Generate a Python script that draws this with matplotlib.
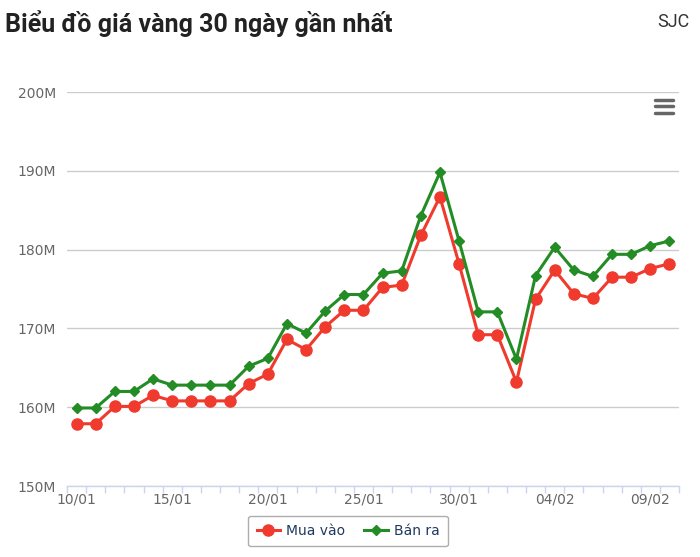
import matplotlib
matplotlib.use("Agg")
import matplotlib.pyplot as plt
from matplotlib.lines import Line2D

# Dates (category axis), one per day
dates = ['10/01', '11/01', '12/01', '13/01', '14/01', '15/01', '16/01', '17/01',
         '18/01', '19/01', '20/01', '21/01', '22/01', '23/01', '24/01', '25/01',
         '26/01', '27/01', '28/01', '29/01', '30/01', '31/01', '01/02', '02/02',
         '03/02', '04/02', '05/02', '06/02', '07/02', '08/02', '09/02', '10/02']

# Prices in millions
mua_vao = [157.9, 157.9, 160.1, 160.1, 161.5, 160.8, 160.8, 160.8, 160.8, 163.0,
           164.2, 168.6, 167.3, 170.2, 172.3, 172.3, 175.2, 175.5, 181.8, 186.7,
           178.2, 169.2, 169.2, 163.2, 173.7, 177.4, 174.4, 173.8, 176.5, 176.5,
           177.6, 178.2]
ban_ra = [159.9, 159.9, 162.0, 162.0, 163.6, 162.8, 162.8, 162.8, 162.8, 165.2,
          166.2, 170.6, 169.4, 172.2, 174.3, 174.3, 177.0, 177.3, 184.3, 189.8,
          181.1, 172.1, 172.1, 166.1, 176.7, 180.3, 177.4, 176.6, 179.4, 179.4,
          180.5, 181.1]

y_ticks = [150, 160, 170, 180, 190, 200]

RED = '#f03a2e'
GREEN = '#248c24'
AXIS_C = '#ccd6eb'
TXT = '#666666'

fig = plt.figure(figsize=(7, 5.57), dpi=100)
ax = fig.add_axes([67 / 700, 1 - 486 / 557, 612 / 700, 394 / 557])

x = list(range(len(dates)))
ax.plot(x, mua_vao, color=RED, lw=2.2, marker='o', ms=8, mec=RED, mfc=RED,
        label='Mua vào', zorder=3)
ax.plot(x, ban_ra, color=GREEN, lw=2.2, marker='D', ms=5.5, mec=GREEN, mfc=GREEN,
        label='Bán ra', zorder=4)

ax.set_xlim(-0.5, len(dates) - 0.5)
ax.set_ylim(150, 200)

ax.set_yticks(y_ticks)
ax.set_yticklabels([f'{v}M' for v in y_ticks])
ax.tick_params(axis='y', length=0, pad=8, labelsize=10, labelcolor=TXT)

ax.set_xticks(x[::5])
ax.set_xticklabels(dates[::5])
ax.set_xticks([i - 0.5 for i in range(len(dates) + 1)], minor=True)
ax.tick_params(axis='x', which='major', length=0, pad=5, labelsize=10, labelcolor=TXT)
ax.tick_params(axis='x', which='minor', length=5, width=1, color=AXIS_C)

ax.grid(axis='y', color='#cccccc', lw=1)
ax.set_axisbelow(True)
for s in ['top', 'right', 'left']:
    ax.spines[s].set_visible(False)
ax.spines['bottom'].set_color(AXIS_C)
ax.spines['bottom'].set_linewidth(1)
ax.spines['bottom'].set_zorder(5)

# Title and source
fig.text(5 / 700, 1 - 24 / 557, 'Biểu đồ giá vàng 30 ngày gần nhất',
         fontfamily='Roboto', fontweight='bold', fontsize=18, color='#222222',
         va='center', ha='left')
fig.text(690 / 700, 1 - 22 / 557, 'SJC', fontfamily='Roboto', fontsize=13,
         color='#333333', va='center', ha='right')

# Hamburger menu icon
for yy in [99.5, 106, 112.5]:
    fig.add_artist(Line2D([655 / 700, 673 / 700], [1 - yy / 557, 1 - yy / 557],
                          color='#666666', lw=2.5, solid_capstyle='round'))

leg = fig.legend(loc='center', bbox_to_anchor=(348 / 700, 1 - 531 / 557),
                 ncol=2, frameon=True, fancybox=True, fontsize=10,
                 handlelength=1.7, columnspacing=1.4, handletextpad=0.4,
                 borderpad=0.6)
leg.get_frame().set_edgecolor('#999999')
leg.get_frame().set_linewidth(1)
for t in leg.get_texts():
    t.set_color('#1f3a5f')

plt.savefig('out.png', dpi=100)
